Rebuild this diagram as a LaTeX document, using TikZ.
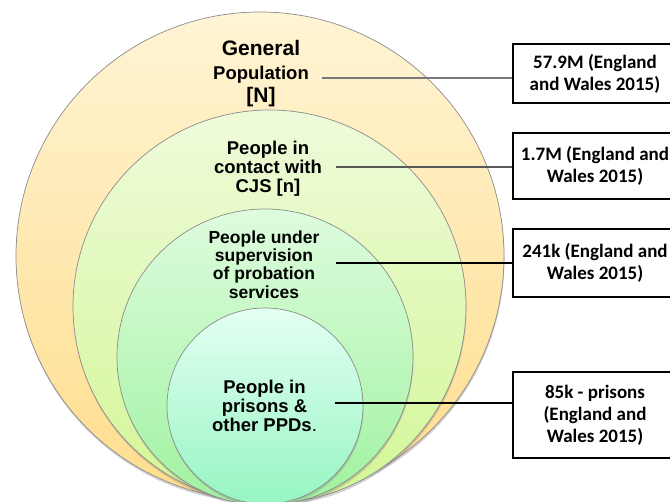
\documentclass[tikz,border=0pt]{standalone}
\usepackage{fontspec}
\setmainfont{Liberation Sans}
\newfontfamily\boxfont{Carlito}
\usetikzlibrary{shadows}
\definecolor{cAtop}{RGB}{255,244,212}
\definecolor{cAbot}{RGB}{255,221,140}
\definecolor{cBtop}{RGB}{238,251,218}
\definecolor{cBbot}{RGB}{212,246,150}
\definecolor{cCtop}{RGB}{222,252,222}
\definecolor{cCbot}{RGB}{160,242,160}
\definecolor{cDtop}{RGB}{228,255,242}
\definecolor{cDbot}{RGB}{150,245,195}
\begin{document}
\begin{tikzpicture}[x=1pt,y=-1pt,
  ring/.style={circle, inner sep=0pt, draw=black!45, line width=0.7pt,
    drop shadow={shadow xshift=0.5pt, shadow yshift=-2.5pt, opacity=0.35}},
  lbl/.style={align=center, font=\bfseries\fontsize{18.5}{19}\selectfont, inner sep=0pt},
  valbox/.style={draw=black, line width=1.6pt, minimum width=164pt, align=center,
    font=\boxfont\bfseries\fontsize{19}{22}\selectfont, inner sep=0pt},
  lead/.style={line width=1.1pt}
]
\useasboundingbox (0,0) rectangle (670,502);
\clip (0,0) rectangle (670,502);
\fill[white] (0,0) rectangle (670,502);

\node[ring, minimum size=488pt, top color=cAtop, bottom color=cAbot] (c1) at (260,256) {};
\node[ring, minimum size=393pt, top color=cBtop, bottom color=cBbot] (c2) at (269.5,306.5) {};
\node[ring, minimum size=296pt, top color=cCtop, bottom color=cCbot] (c3) at (265,357) {};
\node[ring, minimum size=196pt, top color=cDtop, bottom color=cDbot] (c4) at (265,406) {};

\node[align=center, inner sep=0pt, font=\bfseries\fontsize{21}{23.5}\selectfont] (t1) at (261,74)
  {General\\{\fontsize{18.5}{23.5}\selectfont Population}\\{[N]}};
\node[lbl] (t2) at (268,169) {People in\\contact with\\CJS [n]};
\node[lbl, font=\bfseries\fontsize{17.5}{18.3}\selectfont] (t3) at (264,264.5) {People under\\supervision\\of probation\\services};
\node[lbl] (t4) at (264.5,406) {People in\\prisons \&\\other PPDs{\mdseries.}};

\node[valbox, minimum height=59pt] (b1) at (595,73.5) {57.9M (England\\and Wales 2015)};
\node[valbox, minimum height=66pt] (b2) at (595,166) {1.7M (England and\\Wales 2015)};
\node[valbox, minimum height=68pt] (b3) at (595,263) {241k (England and\\Wales 2015)};
\node[valbox, minimum height=86pt] (b4) at (595,415) {85k - prisons\\(England and\\Wales 2015)};

\coordinate (s1) at (322,78);
\coordinate (s2) at (336,167);
\coordinate (s3) at (336,263);
\coordinate (s4) at (335,403);
\draw[lead, black!53] (s1) -- (s1 -| b1.west);
\draw[lead, black!65] (s2) -- (s2 -| b2.west);
\draw[lead, black] (s3) -- (s3 -| b3.west);
\draw[lead, black] (s4) -- (s4 -| b4.west);
\end{tikzpicture}
\end{document}
